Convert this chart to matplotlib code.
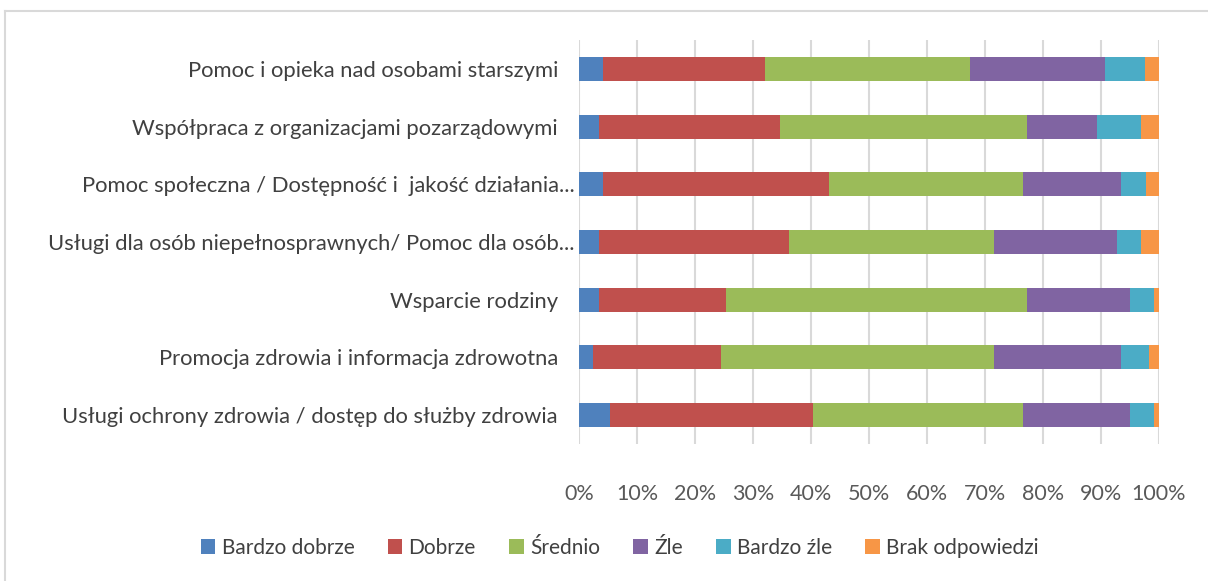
import matplotlib.pyplot as plt
import numpy as np

categories = [
    "Pomoc i opieka nad osobami starszymi",
    "Współpraca z organizacjami pozarządowymi",
    "Pomoc społeczna / Dostępność i  jakość działania...",
    "Usługi dla osób niepełnosprawnych/ Pomoc dla osób...",
    "Wsparcie rodziny",
    "Promocja zdrowia i informacja zdrowotna",
    "Usługi ochrony zdrowia / dostęp do służby zdrowia",
]
series_names = ["Bardzo dobrze", "Dobrze", "Średnio", "Źle", "Bardzo źle", "Brak odpowiedzi"]

bardzo_dobrze = [4.2, 3.4, 4.2, 3.4, 3.4, 2.5, 5.3]
dobrze = [27.8, 31.3, 38.9, 32.8, 21.9, 21.9, 35.0]
srednio = [35.4, 42.6, 33.5, 35.4, 51.9, 47.1, 36.3]
zle = [23.3, 12.1, 16.9, 21.1, 17.8, 21.9, 18.4]
bardzo_zle = [6.9, 7.5, 4.2, 4.2, 4.2, 4.8, 4.2]
brak = [2.4, 3.1, 2.3, 3.1, 0.8, 1.8, 0.8]

tick_values = [0, 10, 20, 30, 40, 50, 60, 70, 80, 90, 100]
tick_labels = ["0%", "10%", "20%", "30%", "40%", "50%", "60%", "70%", "80%", "90%", "100%"]

colors = ["#4F81BD", "#C0504D", "#9BBB59", "#8064A2", "#4BACC6", "#F79646"]

plt.rcParams['font.family'] = ['Lato', 'DejaVu Sans']

fig = plt.figure(figsize=(12.08, 5.81), dpi=100)
ax = fig.add_axes([0.4793, 0.236, 0.4801, 0.695])

# chart border (only top and left edges are visible in the crop)
fig.add_artist(plt.Line2D([5 / 1208, 5 / 1208], [0, 1 - 11 / 581], transform=fig.transFigure,
                          color="#D9D9D9", linewidth=1.5))
fig.add_artist(plt.Line2D([5 / 1208, 1], [1 - 11 / 581, 1 - 11 / 581], transform=fig.transFigure,
                          color="#D9D9D9", linewidth=1.5))

y = np.arange(len(categories))
data = [bardzo_dobrze, dobrze, srednio, zle, bardzo_zle, brak]
left = np.zeros(len(categories))
for name, vals, col in zip(series_names, data, colors):
    ax.barh(y, vals, left=left, height=0.42, color=col, label=name, zorder=3)
    left += np.array(vals)

ax.set_xlim(0, 100)
ax.set_ylim(len(categories) - 0.5, -0.5)
ax.set_xticks(tick_values)
ax.set_xticklabels(tick_labels, fontsize=15.5, color="#595959")
ax.set_yticks(y)
ax.set_yticklabels([c if c.endswith("...") else c + "   " for c in categories],
                   fontsize=15.8, color="#404040")
ax.tick_params(axis='x', length=0, pad=29)
ax.tick_params(axis='y', length=0, pad=3)
for s in ax.spines.values():
    s.set_visible(False)
ax.grid(axis='x', color="#D9D9D9", linewidth=1.5, zorder=0)

fig.legend(loc='center', bbox_to_anchor=(0.513, 0.057), ncol=6, frameon=False,
           fontsize=15, handlelength=0.7, handleheight=0.7, handletextpad=0.3,
           columnspacing=1.6, labelcolor="#404040")

fig.savefig("out.png", dpi=100)
